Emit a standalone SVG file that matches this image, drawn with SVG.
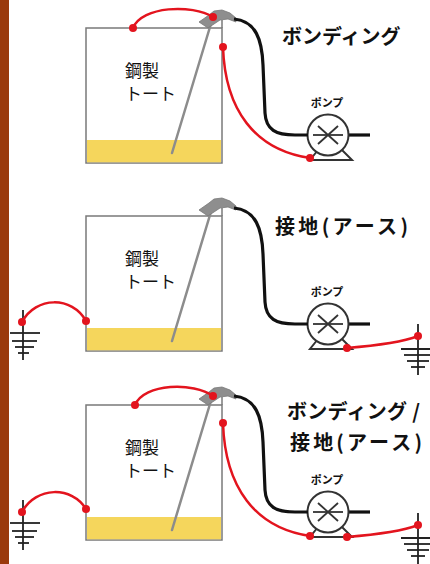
<svg xmlns="http://www.w3.org/2000/svg" xmlns:xlink="http://www.w3.org/1999/xlink" width="430" height="564" viewBox="0 0 430 564">
  <style>
    .tank { fill: #ffffff; stroke: #7a7a7a; stroke-width: 1.5; }
    .liquid { fill: #f5d65c; }
    .pipe { stroke: #8c8c8c; stroke-width: 2.5; stroke-linecap: round; fill: none; }
    .nozzle { fill: #8e8e8e; stroke: #777; stroke-width: 0.8; }
    .hose { fill: none; stroke: #111; stroke-width: 3.2; }
    .pump { fill: #ffffff; stroke: #333; stroke-width: 2; }
    .spoke { stroke: #333; stroke-width: 1.8; }
    .wire { fill: none; stroke: #e3141e; stroke-width: 2.5; }
    .dot { fill: #e3141e; }
    .earth { stroke: #222; stroke-width: 1.8; }
    .label { font-family: "Noto Sans CJK JP", "Noto Sans", sans-serif; font-size: 17px; fill: #111; }
    .pumplabel { font-family: "Noto Sans CJK JP", "Noto Sans", sans-serif; font-size: 11px; font-weight: bold; fill: #111; }
    .title { font-family: "Noto Sans CJK JP", "Noto Sans", sans-serif; font-size: 20px; font-weight: bold; fill: #111; }
  </style>
  <defs>
    <!-- steel tote with dip pipe and nozzle -->
    <g id="tote-shape">
      <rect class="tank" x="86" y="28" width="136" height="135"/>
      <rect class="liquid" x="87" y="140" width="134" height="22.3"/>
      <line x1="222" y1="20" x2="222" y2="28" stroke="#7a7a7a" stroke-width="1.5"/>
      <line class="pipe" x1="172" y1="153" x2="213" y2="17"/>
      <path class="nozzle" d="M199,22 L209,15 L214,11 L222,10 L230,13 L236,18 L236,22 L228,19 L220,20 L214,24 L208,28 Z"/>
      <text class="label" x="125" y="77">鋼製</text>
      <text class="label" x="125" y="100">トート</text>
    </g>
    <!-- hose from nozzle down to pump inlet -->
    <path id="hose-shape" class="hose" d="M234,19 C256,21 262,40 263,65 L265,113 C266,130 276,135 295,135 L308,135"/>
    <!-- pump with impeller mark and base -->
    <g id="pump-shape">
      <line x1="348" y1="135" x2="370" y2="135" stroke="#111" stroke-width="3.2"/>
      <path class="pump" d="M318,150 L310,160 L352,160 L342,150 Z"/>
      <circle class="pump" cx="328" cy="135" r="20.5"/>
      <line class="spoke" x1="313" y1="135" x2="343" y2="135"/>
      <line class="spoke" x1="318" y1="126" x2="338" y2="144"/>
      <line class="spoke" x1="318" y1="144" x2="338" y2="126"/>
      <text class="pumplabel" x="327" y="107" text-anchor="middle">ポンプ</text>
    </g>
    <!-- earth symbol, origin at its top -->
    <g id="earth-left">
      <line class="earth" x1="23" y1="310" x2="23" y2="360"/>
      <line class="earth" x1="10" y1="333" x2="40" y2="333"/>
      <line class="earth" x1="12" y1="341" x2="37" y2="341"/>
      <line class="earth" x1="15" y1="347" x2="34" y2="347"/>
      <line class="earth" x1="18" y1="353" x2="29" y2="353"/>
    </g>
    <g id="earth-right">
      <line class="earth" x1="418" y1="324" x2="418" y2="375"/>
      <line class="earth" x1="401" y1="349" x2="435" y2="349"/>
      <line class="earth" x1="404" y1="355" x2="432" y2="355"/>
      <line class="earth" x1="407" y1="361" x2="429" y2="361"/>
      <line class="earth" x1="411" y1="367" x2="425" y2="367"/>
    </g>
  </defs>

  <rect x="0" y="0" width="430" height="564" fill="#ffffff"/>
  <!-- wall strip on the left -->
  <rect x="0" y="0" width="9" height="564" fill="#9a3a0c"/>

  <!-- ===== Bonding ===== -->
  <g id="tote-1"><use xlink:href="#tote-shape"/></g>
  <g id="pump-1"><use xlink:href="#pump-shape"/></g>
  <g id="title-1"><text class="title" x="282" y="44">ボンディング</text></g>

  <!-- ===== Earthing ===== -->
  <g id="tote-2"><use xlink:href="#tote-shape" transform="translate(0,188)"/></g>
  <g id="pump-2"><use xlink:href="#pump-shape" transform="translate(0,189)"/></g>
  <g id="earth-2a"><use xlink:href="#earth-left"/></g>
  <g id="earth-2b"><use xlink:href="#earth-right"/></g>
  <g id="title-2"><text class="title" x="275" y="234" font-size="22" textLength="133" lengthAdjust="spacing">接地(アース)</text></g>

  <!-- ===== Bonding / Earthing ===== -->
  <g id="tote-3"><use xlink:href="#tote-shape" transform="translate(0,377)"/></g>
  <g id="pump-3"><use xlink:href="#pump-shape" transform="translate(0,377)"/></g>
  <g id="earth-3a"><use xlink:href="#earth-left" transform="translate(0,190)"/></g>
  <g id="earth-3b"><use xlink:href="#earth-right" transform="translate(0,189)"/></g>
  <g id="title-3">
    <text class="title" x="287" y="419" textLength="133" lengthAdjust="spacing">ボンディング /</text>
    <text class="title" x="290" y="450" font-size="21" textLength="132" lengthAdjust="spacing">接地(アース)</text>
  </g>

  <!-- hoses and bonding / earth wires -->
  <g id="connectors">
    <use xlink:href="#hose-shape"/>
    <use xlink:href="#hose-shape" transform="translate(0,189)"/>
    <use xlink:href="#hose-shape" transform="translate(0,377)"/>

    <!-- bonding: tote lid to nozzle, tote wall to pump -->
    <path class="wire" d="M133,28 C142,6 192,4 213,17"/>
    <path class="wire" d="M223,47 C225,110 255,150 310,158"/>
    <circle class="dot" cx="133" cy="28" r="4"/>
    <circle class="dot" cx="213" cy="17" r="4"/>
    <circle class="dot" cx="223" cy="47" r="4"/>
    <circle class="dot" cx="310" cy="158" r="4"/>

    <!-- earthing: tote to earth, pump to earth -->
    <path class="wire" d="M22,322 C36,296 72,296 86,321"/>
    <path class="wire" d="M347,348 C372,346 400,343 418,336"/>
    <circle class="dot" cx="22" cy="322" r="4"/>
    <circle class="dot" cx="86" cy="321" r="4"/>
    <circle class="dot" cx="347" cy="348" r="4"/>
    <circle class="dot" cx="418" cy="336" r="4"/>

    <!-- bonding and earthing combined -->
    <path class="wire" d="M135,405 C144,383 194,382 213,396"/>
    <path class="wire" d="M223,423 C225,487 255,528 310,536"/>
    <path class="wire" d="M22,512 C36,486 72,486 86,509"/>
    <path class="wire" d="M347,537 C372,535 400,532 418,525"/>
    <circle class="dot" cx="135" cy="405" r="4"/>
    <circle class="dot" cx="213" cy="396" r="4"/>
    <circle class="dot" cx="223" cy="423" r="4"/>
    <circle class="dot" cx="310" cy="536" r="4"/>
    <circle class="dot" cx="22" cy="512" r="4"/>
    <circle class="dot" cx="86" cy="509" r="4"/>
    <circle class="dot" cx="347" cy="537" r="4"/>
    <circle class="dot" cx="418" cy="525" r="4"/>
  </g>
</svg>
